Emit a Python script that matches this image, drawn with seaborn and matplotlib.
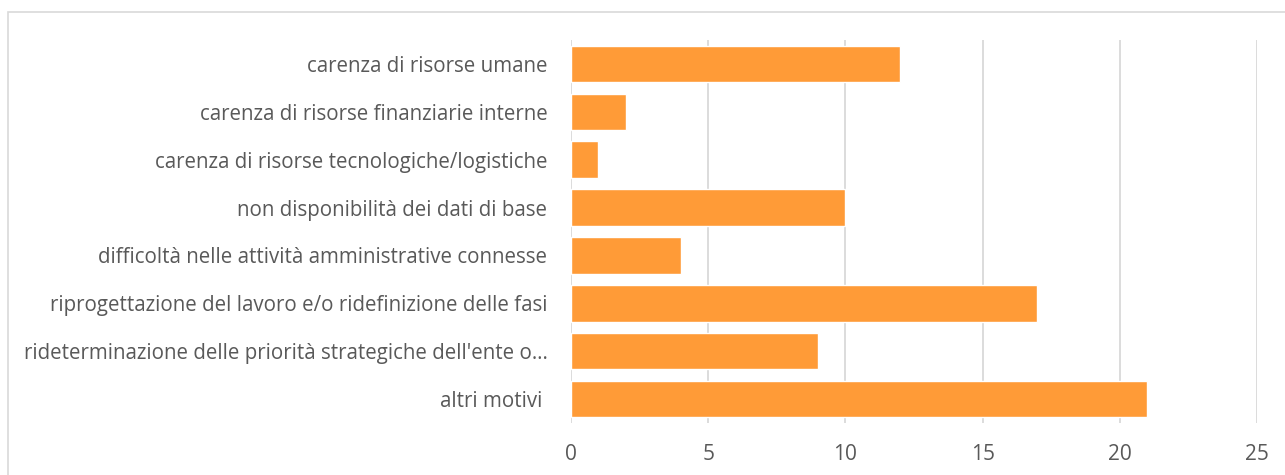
import matplotlib
matplotlib.use("Agg")
import matplotlib.pyplot as plt
import seaborn as sns
import pandas as pd
from matplotlib.patches import Rectangle

categories = [
    "carenza di risorse umane",
    "carenza di risorse finanziarie interne",
    "carenza di risorse tecnologiche/logistiche",
    "non disponibilità dei dati di base",
    "difficoltà nelle attività amministrative connesse",
    "riprogettazione del lavoro e/o ridefinizione delle fasi",
    "rideterminazione delle priorità strategiche dell'ente o…",
    "altri motivi ",
]
values = [12, 2, 1, 10, 4, 17, 9, 21]
xticks = [0, 5, 10, 15, 20, 25]

sns.set_theme(style="white")
plt.rcParams['font.family'] = ['Open Sans', 'DejaVu Sans']

df = pd.DataFrame({"cat": categories, "val": values})

fig = plt.figure(figsize=(12.85, 4.75), dpi=100)
fig.patches.append(Rectangle((8/1285, -0.1), 1.2, (475-12)/475 + 0.1,
                             transform=fig.transFigure, fill=False,
                             edgecolor="#D9D9D9", linewidth=1.2))
ax = fig.add_axes([571/1285, 52/475, 686/1285, 383/475])
sns.barplot(data=df, x="val", y="cat", color="#FF9B37", saturation=1,
            width=0.76, ax=ax, zorder=3)
ax.set_xlim(0, 25)
ax.set_xticks(xticks)
ax.set_xlabel("")
ax.set_ylabel("")
for s in ax.spines.values():
    s.set_visible(False)
ax.grid(axis="x", color="#D9D9D9", linewidth=1.3, zorder=0)
ax.set_axisbelow(True)
ax.tick_params(axis="x", length=0, pad=15, labelsize=15, labelcolor="#595959")
ax.tick_params(axis="y", length=0, pad=17, labelsize=14.8, labelcolor="#595959")
fig.savefig("out.png", dpi=100)
